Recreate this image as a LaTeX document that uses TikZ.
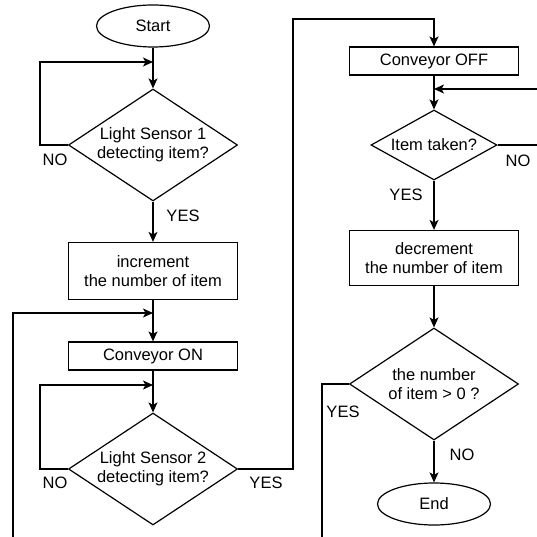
\documentclass[tikz,border=0pt]{standalone}
\usepackage{fontspec}
\setmainfont{Liberation Sans}
\usepackage{tikz}
\usetikzlibrary{shapes.geometric, arrows.meta, positioning, calc}

\begin{document}
\begin{tikzpicture}[
  x=1pt, y=-1pt,
  every node/.style = {font=\fontsize{16.5}{19}\selectfont},
  term/.style = {
    ellipse, draw=black, line width=1.2pt,
    minimum width=113pt, minimum height=42pt, inner sep=0pt
  },
  box/.style = {
    rectangle, draw=black, line width=1.2pt,
    minimum width=169pt, align=center, inner sep=0pt
  },
  decision/.style = {
    diamond, draw=black, line width=1.2pt,
    minimum width=169pt, minimum height=112pt, inner sep=0pt
  },
  arrow/.style = {-{Stealth[length=10pt, width=9pt, inset=2.5pt]}, line width=1.2pt},
  link/.style = {line width=1.2pt},
  lbl/.style = {inner sep=0pt}
]
  \useasboundingbox (0,0) rectangle (536,537);

  % Left column (x = 153)
  \node[term] (start) at (153,26) {Start};
  \node[decision, label={[align=center]center:Light Sensor 1\\detecting item?}] (d1) at (153,145) {};
  \node[box, minimum height=57pt] (inc) at (153,271) {increment\\the number of item};
  \node[box, minimum height=28pt] (on) at (153,356) {Conveyor ON};
  \node[decision, label={[align=center]center:Light Sensor 2\\detecting item?}] (d2) at (153,469) {};

  % Right column (x = 434)
  \node[box, minimum height=28pt] (off) at (434,61) {Conveyor OFF};
  \node[decision, minimum width=126pt, minimum height=70pt,
    label={center:Item taken?}] (d3) at (434,145) {};
  \node[box, minimum height=55pt] (dec) at (434,258) {decrement\\the number of item};
  \node[decision, label={[align=center]center:the number\\of item > 0 ?}] (d4) at (434,384) {};
  \node[term] (end) at (434,504) {End};

  % Joints and loose ends
  \coordinate (j1) at (153,62);
  \coordinate (j2) at (153,313);
  \coordinate (j3) at (153,385);
  \coordinate (j4) at (434,89);
  \coordinate (top) at (293,19);
  \coordinate (low2) at (13,540);
  \coordinate (low4) at (322,540);
  \coordinate (edge3) at (540,145);
  \coordinate (edge4) at (540,89);

  % Left column flow
  \draw[arrow] (start) -- (d1);
  \draw[arrow] (d1.west) -- ++(-28,0) |- (j1);
  \draw[arrow] (d1) -- (inc);
  \draw[arrow] (inc) -- (on);
  \draw[arrow] (low2) |- (j2);
  \draw[arrow] (on) -- (d2);
  \draw[arrow] (d2.west) -- ++(-28,0) |- (j3);
  \draw[arrow] (d2.east) -| (top) -| (off.north);

  % Right column flow
  \draw[arrow] (off) -- (d3);
  \draw[arrow] (edge4) -- (j4);
  \draw[link] (d3.east) -- (edge3);
  \draw[arrow] (d3) -- (dec);
  \draw[arrow] (dec) -- (d4);
  \draw[link] (d4.west) -| (low4);
  \draw[arrow] (d4) -- (end);

  % Branch labels
  \node[lbl] (no1) at (55,160) {NO};
  \node[lbl] (yes1) at (183,216) {YES};
  \node[lbl] (no2) at (55,483) {NO};
  \node[lbl] (yes2) at (266,483) {YES};
  \node[lbl] (no3) at (518,161) {NO};
  \node[lbl] (yes3) at (406,195) {YES};
  \node[lbl] (yes4) at (343,412) {YES};
  \node[lbl] (no4) at (462,455) {NO};

\end{tikzpicture}
\end{document}
